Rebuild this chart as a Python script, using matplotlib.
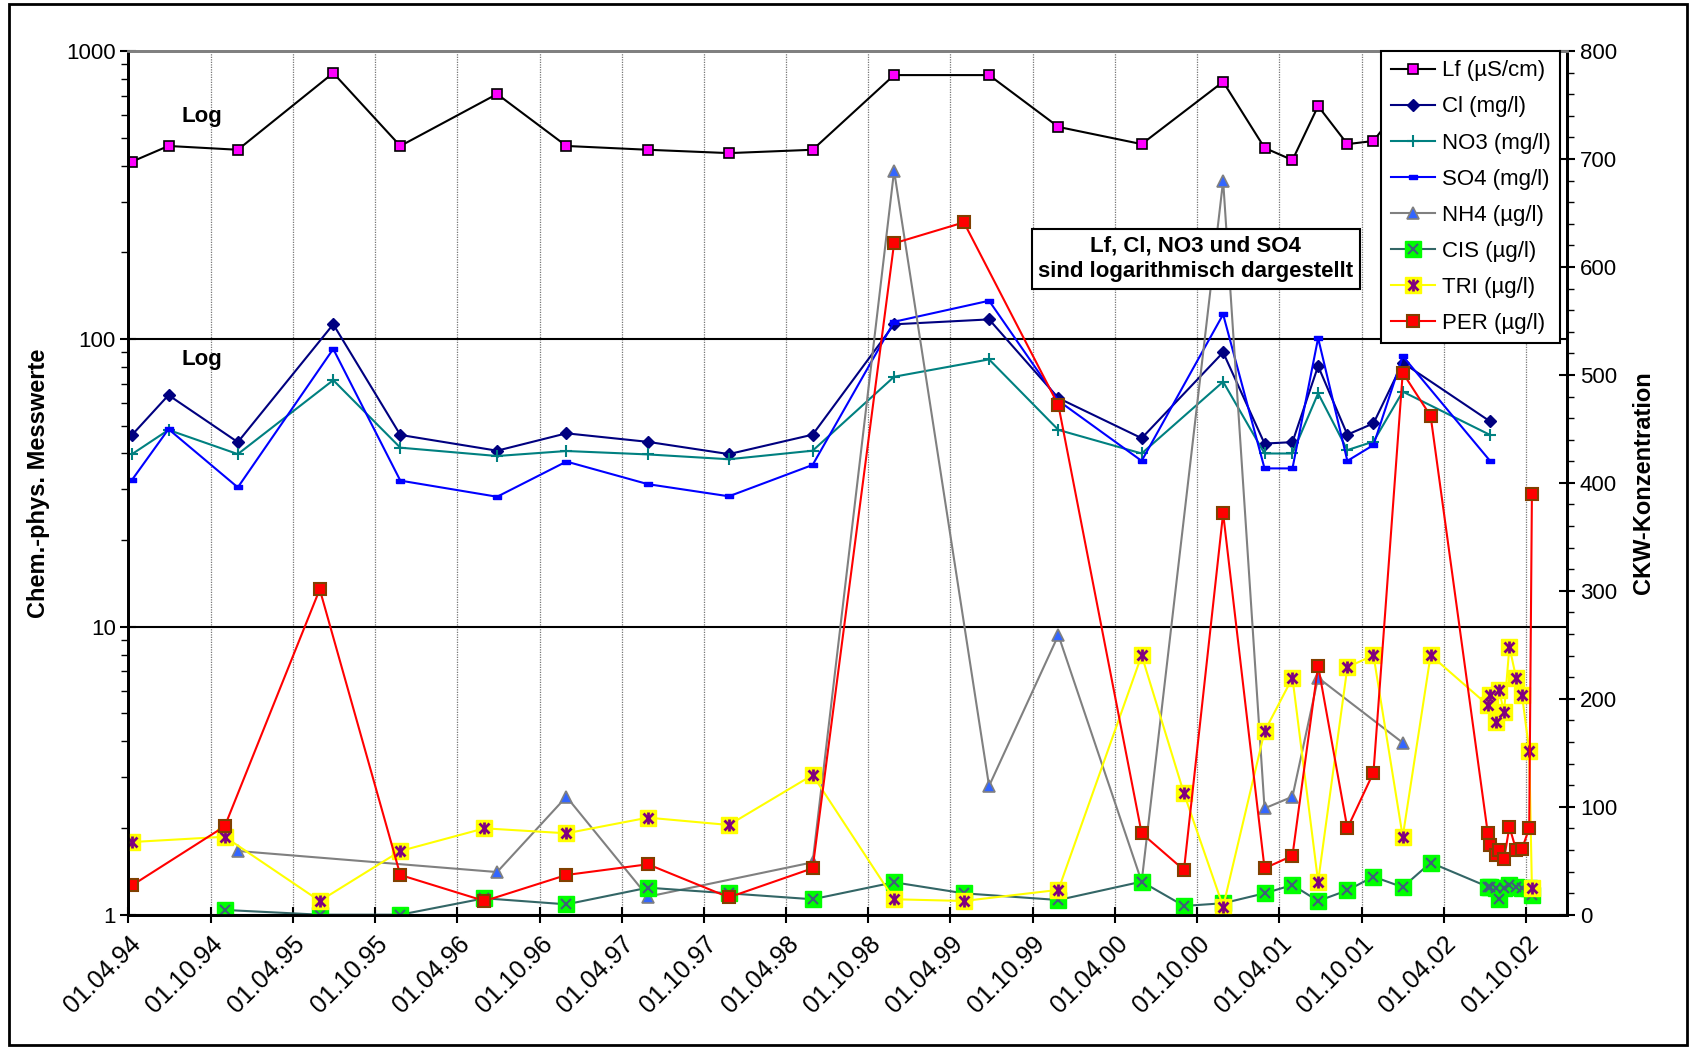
import matplotlib
matplotlib.use('Agg')
import matplotlib.pyplot as plt
import matplotlib.dates as mdates
from matplotlib.ticker import FixedLocator, MultipleLocator, FuncFormatter, LogLocator, NullFormatter
from matplotlib.legend_handler import HandlerTuple
from matplotlib.patches import Rectangle
import numpy as np
import pandas as pd

plt.rcParams['font.family'] = ['Liberation Sans', 'DejaVu Sans']

nan = np.nan

# ---- chem.-phys. samples (left, log axis; NH4 on right axis) ----
chem_dates = ['1994-04-09', '1994-06-29', '1994-11-30', '1995-06-30', '1995-11-26',
              '1996-06-28', '1996-11-29', '1997-05-29', '1997-11-25', '1998-05-30',
              '1998-11-27', '1999-06-26', '1999-11-27', '2000-05-30', '2000-11-27',
              '2001-02-27', '2001-04-30', '2001-06-26', '2001-08-30', '2001-10-27',
              '2001-12-31', '2002-07-13']
lf = [413, 468, 454, 839, 468, 709, 468, 454, 442, 454, 825, 825, 545, 475, 782,
      461, 418, 644, 475, 487, 660, 520]
cl = [46.4, 63.8, 43.8, 112.4, 46.4, 40.9, 47.0, 43.9, 39.8, 46.5, 112.4, 116.9,
      62.3, 45.2, 89.8, 43.3, 43.8, 80.5, 46.5, 50.9, 82.7, 51.7]
no3 = [39.8, 48.3, 39.8, 71.9, 41.9, 39.2, 40.8, 39.7, 38.2, 40.9, 73.9, 84.9,
       48.3, 40.0, 71.0, 40.0, 40.0, 64.7, 41.1, 44.0, 65.6, 46.4]
so4 = [32.4, 48.6, 30.5, 92.3, 32.2, 28.3, 37.5, 31.3, 28.4, 36.5, 114.7, 135.7,
       61.0, 37.7, 121.7, 35.5, 35.5, 100.7, 37.7, 42.8, 87.2, 37.7]
nh4 = [nan, nan, 59.0, nan, nan, 39.5, 109.3, 16.7, nan, 48.5, 689.1, 119.2,
       259.0, 30.6, 679.9, 98.5, 109.3, 219.5, nan, nan, 159.3, nan]

# ---- CKW samples (right, linear axis) ----
ckw_dates = ['1994-04-09', '1994-11-01', '1995-05-31', '1995-11-26', '1996-05-31',
             '1996-11-29', '1997-05-29', '1997-11-25', '1998-05-30', '1998-11-27',
             '1999-05-01', '1999-11-27', '2000-05-30', '2000-09-01', '2000-11-27',
             '2001-02-27', '2001-04-30', '2001-06-26', '2001-08-30', '2001-10-27',
             '2001-12-31', '2002-03-03', '2002-07-08', '2002-07-13', '2002-07-26',
             '2002-08-02', '2002-08-13', '2002-08-25', '2002-09-09', '2002-09-22',
             '2002-10-08', '2002-10-14']
cis = [nan, 4.4, 0, 0, 15.2, 9.6, 25.0, 19.8, 14.3, 30.0, 19.8, 13.6, 30.6, 8.1,
       10.6, 19.8, 27.5, 12.7, 22.6, 35.2, 25.5, 48.2, 25.9, 25.9, 25.0, 14.3,
       25.0, 27.5, 25.9, 25.0, 25.0, 18.0]
tri = [67.3, 72.2, 12.7, 59.0, 80.0, 75.4, 89.9, 83.1, 129.4, 14.3, 12.7, 23.0,
       240.3, 112.3, 7.4, 169.7, 219.5, 30.6, 229.2, 240.3, 72.2, 240.4, 194.2,
       203.5, 178.8, 208.1, 187.5, 248.2, 219.2, 203.5, 151.9, 24.5]
per = [27.2, 81.9, 301.4, 36.8, 12.7, 36.8, 46.7, 16.1, 43.0, 621.9, 641.3, 472.0,
       75.4, 41.4, 371.8, 43.0, 54.6, 230.6, 80.0, 131.7, 502.0, 461.9, 75.4, 64.3,
       55.3, 59.9, 51.3, 81.5, 59.9, 61.1, 80.0, 389.4]

labels = ['Lf (µS/cm)', 'Cl (mg/l)', 'NO3 (mg/l)', 'SO4 (mg/l)', 'NH4 (µg/l)',
          'CIS (µg/l)', 'TRI (µg/l)', 'PER (µg/l)']
x_ticklabel_fmt = '%d.%m.%y'


def series(axis, dates, vals, **kw):
    d = pd.to_datetime(pd.Series(dates))
    v = np.array(vals, dtype=float)
    m = ~np.isnan(v)
    return axis.plot(d[m].values, v[m], **kw)[0]


fig = plt.figure(figsize=(16.9, 10.48), dpi=100)
ax = fig.add_axes([0.0760, 0.1272, 0.8515, 0.8241])
ax2 = ax.twinx()

rect_marker = [(-2, -1), (2, -1), (2, 1), (-2, 1), (-2, -1)]

h_lf = series(ax, chem_dates, lf, color='black', lw=1.5, marker='s', ms=6.5,
              mfc='#FF00FF', mec='black', mew=1.2)
h_cl = series(ax, chem_dates, cl, color='#000080', lw=1.5, marker='D', ms=6,
              mfc='#000080', mec='#000080')
h_no3 = series(ax, chem_dates, no3, color='#008080', lw=1.5, marker='+', ms=9, mew=1.5)
h_so4 = series(ax, chem_dates, so4, color='#0000FF', lw=1.5, marker=rect_marker, ms=6,
               mfc='#0000FF', mec='#0000FF')

h_nh4 = series(ax2, chem_dates, nh4, color='#808080', lw=1.5, marker='^', ms=9,
               mfc='#3366FF', mec='#808080', mew=1.2)
h_cis = series(ax2, ckw_dates, cis, color='#336666', lw=1.5, marker='s', ms=11,
               mfc='#00FF00', mec='#00FF00')
h_cisx = series(ax2, ckw_dates, cis, ls='none', marker='x', ms=7, mew=1.5,
                color='#40607A')
h_tri = series(ax2, ckw_dates, tri, color='#FFFF00', lw=1.5, marker='s', ms=11,
               mfc='#FFFF00', mec='#FFFF00')
h_trix = series(ax2, ckw_dates, tri, ls='none', marker='x', ms=6.5, mew=2,
                color='#800080')
h_trib = series(ax2, ckw_dates, tri, ls='none', marker='|', ms=8, mew=2,
                color='#800080')
h_per = series(ax2, ckw_dates, per, color='#FF0000', lw=1.5, marker='s', ms=8,
               mfc='#FF0000', mec='#804000', mew=1.5)

# ---- axes ----
ax.set_yscale('log')
ax.set_ylim(1, 1000)
ax.yaxis.set_major_locator(FixedLocator([1, 10, 100, 1000]))
ax.yaxis.set_major_formatter(FuncFormatter(lambda v, p: f'{v:g}'))
ax.yaxis.set_minor_locator(LogLocator(base=10, subs=np.arange(2, 10)))
ax.yaxis.set_minor_formatter(NullFormatter())

ax.set_xlim(pd.Timestamp('1994-04-01'), pd.Timestamp('2003-01-01'))
ax.xaxis.set_major_locator(mdates.MonthLocator(bymonth=[4, 10], bymonthday=1))
ax.xaxis.set_major_formatter(mdates.DateFormatter(x_ticklabel_fmt))
ax.grid(axis='x', which='major', color='#777777', ls=(0, (1, 1)), lw=0.9)
ax.grid(axis='y', which='major', color='black', lw=1.5)
ax.set_axisbelow(True)

ax2.set_ylim(0, 800)
ax2.yaxis.set_major_locator(MultipleLocator(100))
ax2.yaxis.set_minor_locator(MultipleLocator(20))

ax.tick_params(axis='y', which='major', direction='inout', length=12, width=1.5,
               labelsize=16, pad=3)
ax.tick_params(axis='y', which='minor', direction='out', length=5, width=1)
ax.tick_params(axis='x', which='major', direction='inout', length=12, width=1.5,
               labelsize=18, pad=6)
ax2.tick_params(axis='y', which='major', direction='inout', length=12, width=1.5,
                labelsize=16, pad=3)
ax2.tick_params(axis='y', which='minor', direction='out', length=5, width=1)

for lbl in ax.get_xticklabels():
    lbl.set_rotation(45)
    lbl.set_ha('right')
    lbl.set_rotation_mode('anchor')

for a in (ax, ax2):
    for s in ('left', 'right', 'bottom'):
        a.spines[s].set_color('black')
        a.spines[s].set_linewidth(2)
    a.spines['top'].set_color('#808080')
    a.spines['top'].set_linewidth(2)

ax.set_ylabel('Chem.-phys. Messwerte', fontsize=17, fontweight='bold')
ax.yaxis.label.set_va('center')
ax.yaxis.set_label_coords(-0.0622, 0.5)
ax2.set_ylabel('CKW-Konzentration', fontsize=17, fontweight='bold', rotation=90)
ax2.yaxis.label.set_va('center')
ax2.yaxis.set_label_coords(1.0528, 0.5)

# ---- annotations ----
ax.text(0.0510, 0.9243, 'Log', transform=ax.transAxes, ha='center', va='center',
        fontsize=16, fontweight='bold')
ax.text(0.0510, 0.6434, 'Log', transform=ax.transAxes, ha='center', va='center',
        fontsize=16, fontweight='bold')
ax2.text(0.7418, 0.7592, 'Lf, Cl, NO3 und SO4\nsind logarithmisch dargestellt',
         transform=ax2.transAxes, ha='center', va='center', fontsize=16,
         fontweight='bold', linespacing=1.3, zorder=20,
         bbox=dict(boxstyle='square,pad=0.3', fc='white', ec='black', lw=1.5))

handles = [h_lf, h_cl, h_no3, h_so4, h_nh4, (h_cis, h_cisx), (h_tri, h_trix, h_trib), h_per]
leg = ax2.legend(handles, labels, handler_map={tuple: HandlerTuple(ndivide=1)},
                 loc='upper right', bbox_to_anchor=(0.9947, 1.0), borderaxespad=0,
                 fontsize=16, frameon=True, fancybox=False, framealpha=1,
                 edgecolor='black', numpoints=1, handlelength=2.0,
                 labelspacing=0.68, borderpad=0.42, handletextpad=0.3)
leg.get_frame().set_linewidth(1.5)
leg.set_zorder(30)

fig.patches.append(Rectangle((0.0053, 0.0029), 0.9929, 0.9933, transform=fig.transFigure,
                             fill=False, lw=2, ec='black'))

fig.savefig('out.png', dpi=100)
